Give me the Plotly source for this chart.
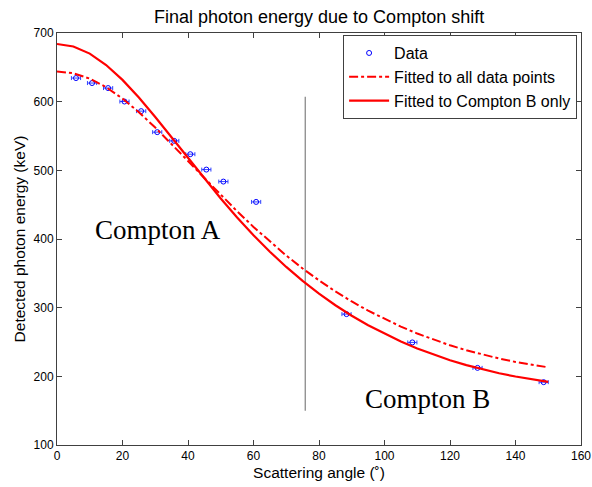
import plotly.graph_objects as go

# Measured data
angle = [5.8, 10.7, 15.6, 20.6, 25.7, 30.6, 35.8, 40.7, 45.6, 50.8, 60.8, 88.4, 108.5, 128.4, 148.6]
energy = [634.4, 627.1, 619.8, 600.2, 586.2, 555.6, 542.9, 523.5, 501.1, 483.6, 454.0, 290.6, 249.4, 212.3, 191.5]
angle_err = [1.4] * len(angle)

# Fitted curves
fit_angle = [0, 5, 10, 15, 20, 25, 30, 35, 40, 45, 50, 55, 60, 65, 70, 75, 80, 85,
             90, 95, 100, 105, 110, 115, 120, 125, 130, 135, 140, 145, 150]
fit_all = [644, 641.4, 633.6, 621.1, 604.5, 584.6, 562.3, 538.4, 513.7, 488.8, 464.2, 440.4,
           417.6, 396.1, 375.9, 357.1, 339.7, 323.7, 309.0, 295.6, 283.4, 272.4, 262.3, 253.3,
           245.2, 238.0, 231.6, 225.9, 221.0, 216.7, 213.1]
fit_b = [684, 680.4, 670.0, 653.4, 631.7, 606.0, 577.7, 547.9, 517.6, 487.8, 458.9, 431.4,
         405.5, 381.5, 359.3, 338.9, 320.4, 303.5, 288.2, 274.3, 261.9, 250.6, 240.6, 231.6,
         223.5, 216.4, 210.0, 204.5, 199.7, 195.5, 192.0]

divider_x = [75.8, 75.8]
divider_y = [150, 607]

fig = go.Figure()
fig.add_trace(go.Scatter(
    x=divider_x, y=divider_y, mode="lines",
    line=dict(color="#808080", width=1.2), showlegend=False, hoverinfo="skip"))
fig.add_trace(go.Scatter(
    x=angle, y=energy, mode="markers", name="Data",
    marker=dict(symbol="circle-open", size=5, color="#0000ff", line=dict(width=1)),
    error_x=dict(type="data", array=angle_err, color="#3344ff", thickness=1, width=2)))
fig.add_trace(go.Scatter(
    x=fit_angle, y=fit_all, mode="lines", name="Fitted to all data points",
    line=dict(color="#ff0000", width=2, dash="dashdot")))
fig.add_trace(go.Scatter(
    x=fit_angle, y=fit_b, mode="lines", name="Fitted to Compton B only",
    line=dict(color="#ff0000", width=2.2)))

serif = "Liberation Serif, Times New Roman, serif"
sans = "Liberation Sans, Arial, sans-serif"
fig.add_annotation(x=30.7, y=413, text="Compton A", showarrow=False,
                   font=dict(family=serif, size=27, color="black"))
fig.add_annotation(x=113, y=167, text="Compton B", showarrow=False,
                   font=dict(family=serif, size=27, color="black"))

axis_common = dict(showgrid=False, zeroline=False, showline=True, linecolor="#404040",
                   linewidth=1, mirror="ticks", ticks="inside", ticklen=5, tickcolor="#404040",
                   automargin=False,
                   tickfont=dict(family=sans, size=12, color="black"))

fig.update_layout(
    width=592, height=487,
    margin=dict(l=57, r=11, t=33, b=42),
    paper_bgcolor="white", plot_bgcolor="white",
    title=dict(text="Final photon energy due to Compton shift", x=0.539, xanchor="center",
               y=0.965, yanchor="middle",
               font=dict(family=sans, size=18, color="black")),
    xaxis=dict(range=[0, 160], dtick=20,
               title=dict(text="Scattering angle (˚)", standoff=4,
                          font=dict(family=sans, size=15.5, color="black")),
               **axis_common),
    yaxis=dict(range=[100, 700], dtick=100,
               title=dict(text="Detected photon energy (keV)", standoff=4,
                          font=dict(family=sans, size=15.5, color="black")),
               **axis_common),
    legend=dict(x=0.546, y=0.995, xanchor="left", yanchor="top",
                bgcolor="white", bordercolor="#404040", borderwidth=1,
                font=dict(family=sans, size=16, color="black"),
                tracegroupgap=0, itemwidth=40),
)

# remove the page's default body margin so the figure fills the window exactly
fig.write_html("out.html", config={"displayModeBar": False},
               post_script="document.body.style.margin='0';document.body.style.overflow='hidden';")
